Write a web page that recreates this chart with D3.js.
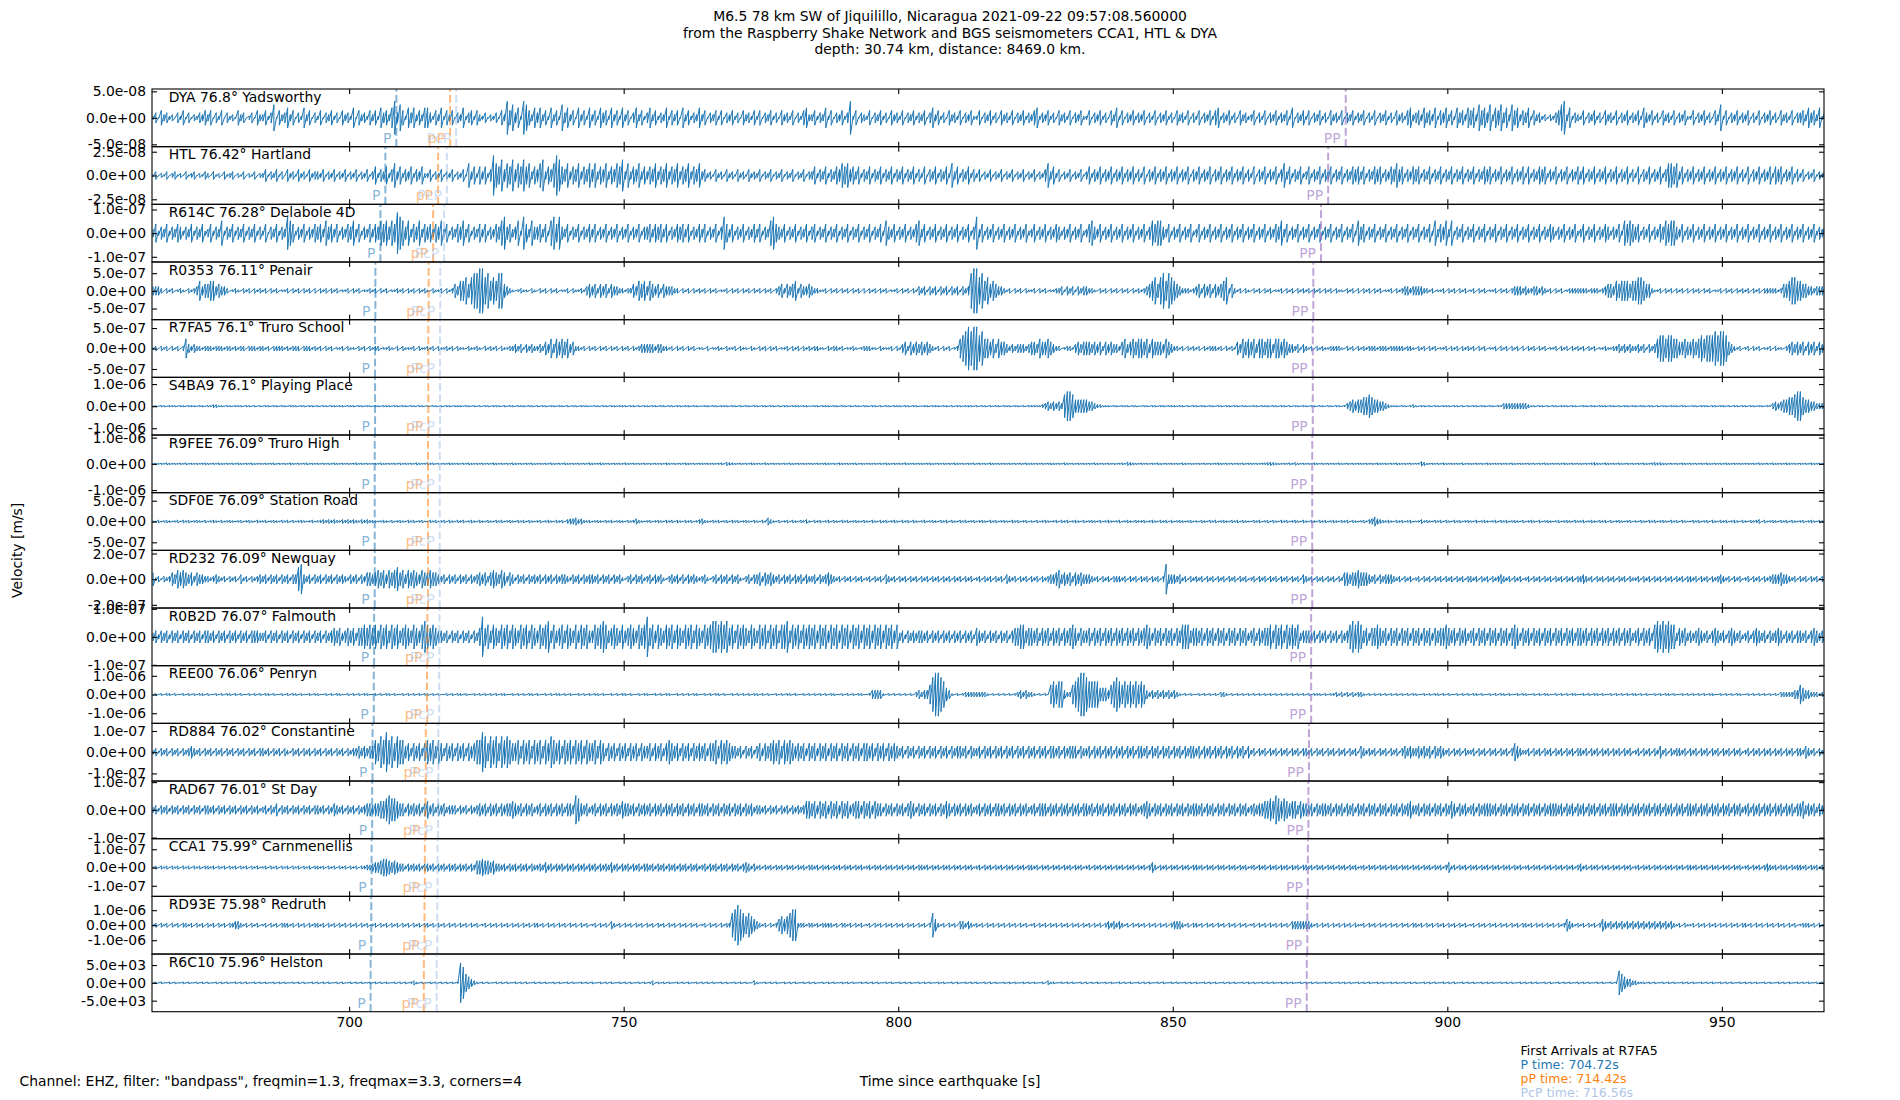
<!DOCTYPE html>
<html><head><meta charset="utf-8">
<script src="https://cdn.jsdelivr.net/npm/d3@7/dist/d3.min.js"></script>
<style>
body{margin:0;background:#fff}
svg text{font-family:"DejaVu Sans",sans-serif}
</style>
</head><body>
<svg id="chart" width="1900" height="1100"></svg>
<script>
// ---------------- DATA ----------------
const stations = ["DYA","HTL","R614C","R0353","R7FA5","S4BA9","R9FEE","SDF0E","RD232","R0B2D","REE00","RD884","RAD67","CCA1","RD93E","R6C10"];
const distances = [76.8,76.42,76.28,76.11,76.1,76.1,76.09,76.09,76.09,76.07,76.06,76.02,76.01,75.99,75.98,75.96];
const places = ["Yadsworthy","Hartland","Delabole 4D","Penair","Truro School","Playing Place","Truro High","Station Road","Newquay","Falmouth","Penryn","Constantine","St Day","Carnmenellis","Redruth","Helston"];
const yTickSteps = [5e-8,2.5e-8,1e-7,5e-7,5e-7,1e-6,1e-6,5e-7,2e-7,1e-7,1e-6,1e-7,1e-7,1e-7,1e-6,5e3];
const yLimits = [5.44e-8,3.03e-8,1.22e-7,8.15e-7,7.04e-7,1.305e-6,1.1e-6,6.93e-7,2.25e-7,1.03e-7,1.54e-6,1.36e-7,1.04e-7,1.58e-7,1.92e-6,8.1e3];
const tracePeaks = [3.14e-8,2.1e-8,8.74e-8,6.31e-7,5.29e-7,6.64e-7,8.9e-8,1.12e-7,1.17e-7,7.14e-8,1.157e-6,9.43e-8,5.17e-8,4.75e-8,1.33e-6,5618];
const pTimes   = [708.6,706.6,705.7,704.78,704.72,704.72,704.66,704.66,704.66,704.55,704.49,704.26,704.2,704.09,704.03,703.91];
const pPTimes  = [718.4,716.2,715.3,714.48,714.42,714.42,714.36,714.36,714.36,714.25,714.19,713.96,713.9,713.79,713.73,713.61];
const pcpTimes = [719.5,717.8,717.3,716.6,716.56,716.56,716.5,716.5,716.5,716.45,716.4,716.25,716.2,716.1,716.05,715.95];
const ppTimes  = [881.5,878.3,877.0,875.6,875.5,875.5,875.4,875.4,875.4,875.2,875.2,874.8,874.7,874.6,874.5,874.4];
const xTicks = [700,750,800,850,900,950];
const xDomain = [664.1,968.6];
const traceStart = 664.3, sampleStep = 0.5;
const titleLines = ["M6.5 78 km SW of Jiquilillo, Nicaragua 2021-09-22 09:57:08.560000","from the Raspberry Shake Network and BGS seismometers CCA1, HTL & DYA","depth: 30.74 km, distance: 8469.0 km."];
const arrivalLines = ["First Arrivals at R7FA5","P time: 704.72s","pP time: 714.42s","PcP time: 716.56s"];

// amplitude level (0-9) of the trace in successive 0.5 s windows, one string per 10 s
const traceDYA = ["35264534153625243546","46253615342645135264","46358264574625374625","36254635264537264536","46375647958637574647","75364736462547356364","35243526496857398647","57463746385746274637","46375637463746257463","57463547364627463547","46254636254635264536","36254635264536253674","46354736254635936254","36254635264536254635","46257463526453625463","36254635264536254635","46735463526453625463","36254635264736254635","46253625463526453625","36254636735463526453","46253625463546372546","36254635264536254635","46253625463526453674","56475647365746375647","67486758476857486746","57364534243568947354","36254635264536254635","46375463526453625463","36254635264836254635","46253625463526453625","56475647365746375647"];
const traceHTL = ["24132413423142341324","31423142341324132413","35243524153425342534","43524352435243524352","46354635746354635463","35243524352435274636","46359768576857686746","57846579865746574657","57465746576847465746","46574657465746574657","45342534253425342534","35243524352435243524","46354635465767564635","46354635463546354635","36254635463746354635","35243524352435243524","35243574635243524352","46354635463546354635","36254635463546354625","46354625463546354635","36254635463574635463","46354635463546354656","46354656354657563546","56354635463546354635","46354656354635463546","36354656354635463546","46354635463546354635","36254635463577674635","46354635463546354635","36254635463656354635","35243524352435243524"];
const traceR614C = ["46354635465354635463","46354735463546354635","36254635487635463546","56475646354657463546","46576757698757465746","56465746354657463546","46354657856457386475","56463786854635463546","46354635463546354635","56465646354656463546","46354635864635463546","46354786546354635463","56354635463546354635","46354637546354635467","46354635463546354635","84635463546354635463","46354635465354635463","46754635463546354635","46357677546354635463","46354635463546354635","46354635465746354635","46354635463546354637","56354635463546354635","46354637465747354635","46354635463546354635","46354635465354635463","46354635465354637676","56354635465767754635","46354635463546354635","46354635463546354635","46354635463546354635"];
const traceR0353 = ["44431323123213234645","56645443123213231323","23132312231323132313","13231323122313231223","23132312232313231323","21322313235466757889","97867688543212322132","13231323122313223245","45354535443323354656","46545354443313231323","23132312231323132313","23132313453545635445","43322313231323132313","13231323122313231324","34243424342434243489","97867565443231323132","23132312233424342434","43321323132313231323","23456757868765433323","45354535456735323132","13231323122313231323","23132313231322132313","13231323122313234434","44433231223132313231","23132312231323134443","43344343231323123333","33323332345546566656","67765532231323132313","13231323122313231323","23132313333323556776","65544344443424342434"];
const traceR7FA5 = ["23132313231364343323","33233323323233133323","32313333232333133323","23132312231322132313","23312232131322231322","32313223231322132232","13232313223343424343","34354646565645332313","23132313231323132344","44434433231323132312","21312232132231322132","13231323122313231323","23322132332312232123","33221322231324535454","54543231323123678989","97866564655434344434","55465565433123324545","55454535454435645656","65646555465433231323","23132333231323254656","56466566466565443424","32313232233332132313","23233323332333332332","13231323122313231323","23132312231323132313","13231323122313231323","23132312232233434343","34342434677677665565","56567677787887543231","23132312231322134545","45354535453545354535"];
const traceS4BA9 = ["22122122212212221221","22332212212221221212","12212212212221221221","21221221221222122122","12212221221221221221","21221212212221221212","12212221212212221221","21221221221212212221","12212212212221221212","21221221221221221221","12212212221221212212","21221221212212221221","12212221221221212212","21221212212221221221","12212221221212212221","21221212212221221212","22223454545489986666","65543322212212221221","12212212212221221212","21221221221221221221","12212221221221212212","21221221221221245656","67787665543222122123","21221212212221221212","12212212212244444444","43221221212212221221","12212212221221212212","21221221212212221221","12212221221221212212","21221221224545667789","97665544444343434343"];
const traceR9FEE = ["45454654545464545456","54546545454654546545","45456454546545456454","54545465454545645454","45465454546454546545","75645454654545465454","54546545454654545465","45454654546545454546","54565454545465454545","45454546545454654545","54545456487654545465","45465454545465454545","54545654546545456454","45454546545454654545","54565454545465454546","45454654545454545465","54545456545465454545","45465454545456587654","54545465454545465454","45454545654545454645","54545678765454657545","45465454545465454545","54545465454546545454","45985454546545454645","54545465454545465454","45454546545454654545","54546765465454654545","45465467676545454654","54545465454546545454","45454654546545465454","54546545454654545465"];
const traceSDF0E = ["43534543453545345435","34543534543453454354","45345435453534543453","45656565465656546565","54345435345435453453","35453453543545345435","43543545345435453543","45345435453677867545","34543545345435457543","45345435453543545346","75435453453545345435","43548643534535435464","35453453543545345435","43543545345435453543","45345435453543545345","34543545345435453453","43534543453545345435","34543534543453454354","45345435453534543453","43543545345435453543","35453453543545345435","43543545345435453543","45367976545435453453","34645435453543545345","43534543453545345435","34543534543453454354","45345435453534543453","43543545345435453543","35453453543545345435","43545635345435453543","45345435453543545345"];
const traceRD232 = ["63424346576765646554","43454342434253424345","45354535453558954535","45354535454354535466","56767576786757676576","67665453545354535456","56467657646535453545","45354535455435453545","54535453545324535453","45354532454535354543","45324535453545324535","56465654535453545354","45354565434243424342","34243425434243424342","43424342434243424342","34243424342543424342","43424345567565646565","55434243424443424342","43424342495554534243","43424342434243424342","34243424342434243425","43424342434243665667","66654535455543424342","34243424342434243424","43424342434543424342","34243424342434243424","45434243424342434243","34243424342434243424","43424342434543424342","34243424345556554342","43424342434243424342"];
const traceR0B2D = ["45354535453545354535","54535453545354535554","45354535453545354535","45354565645656466767","67576757675676576578","76765545354535453546","96757657675765767576","57678575675765757675","57678756765756765767","96757657675765767576","57678878786757676576","57675767577857675767","67576757675767576757","67576757675745354545","54535453545354535453","65453545354535667756","65646564656465676465","56465646564656465646","56764656465646577756","65646564656465646564","56465667576757676745","55453545354535457878","75646676564656465646","56465646566765646564","56465646564656467646","56465646564656465646","65646564656465646564","56465647878787746564","54565453565453565453","45356545354565354535","54535654535456535453"];
const traceREE00 = ["12121221211212121221","21121212212121121212","12212112121221211212","21121212211212121221","12121221211212121212","21212112121221211212","12121212211212121221","21121212212121121212","12212112121221211212","21121212211212121221","12121221211212121212","21212112121221211212","12121212211212121221","12444421212121212134","34468998754212123333","33332121212121234343","32121216767743367899","87777555467876767676","76434343434343212121","12121212133212121212","12121212121212121212","12122212122323232323","32121212121212121212","21121212212121121212","12212112121221211212","21121212211212121221","12121221211212121212","21212112121221211212","12121212211212121221","12121212121213333344","65443332323232323232"];
const traceRD884 = ["34243424342434543424","34243424342434243424","43424342432434243424","34243424342434454545","57687978687756465646","76757646564656465677","98687868787667576757","67576876757675767576","67576465646564656465","56465646765646564656","56466757676554535453","56465676757676565646","56465646564656465646","65646564656545354535","45354535453545545354","45354535453545354535","45354535545354555354","45354535453545354535","54535453545354535455","45354535453545354535","34243424342434243424","43424342434243424342","54343424342434245454","45454535454342434243","34243424342434246543","34243424342434243424","43424342434243424342","34243424353424344342","43424342434243424342","34243424342434243424","43543424342434243424"];
const traceRAD67 = ["45354535453545354535","54535453545354535453","45354635453545354535","54535465453545354566","56677898876646565646","75646564555354535456","56465646566765646564","56465646564665986564","56465646565766564656","56465646564656465646","65646564656465646564","55453545354535454577","67576757675767567757","67576646564656467646","56465646576465646564","56465646656465646564","56466646564656465646","65646564656465646564","56764656465646564656","65646564656465646564","56566778798787677576","65646566564656465646","56465646564656465675","56465646564657646564","56465666564656465646","56465646566656465646","56465646564666465646","56465646564656465646","65646564656465646564","56465646564656465646","67565646564656465646"];
const traceCCA1 = ["34243424342434243424","43424342434243424342","34243424342434243424","43424342434243424455","67789987876646565646","65646564656465646588","98878665646564656465","56575646564656465646","56465657564656465646","65646564656465646564","56465646564656467646","45354535453545354535","54535453545354535453","45354535453545354535","54535453545354535453","45354535453545354535","54535453545354535453","45354535453545354535","45357535453545354535","54535453545354535453","45354535453545354535","54535453545354535453","45354535453545354535","45354535453574535453","54535453545354535453","45354535453545354535","64535453545354535453","45354535453545354535","54535453545354535453","45354535654535453545","54535453545354535453"];
const traceRD93E = ["23132313231332313231","32313231334432313231","23132313332313231323","32313231323132313231","23132313231323132313","32313231323132313231","23132313231323132313","32313231323132313231","23132314323132313231","32313231323132313231","23132313233789876765","43231323565678833323","32323333231332313231","23132313231323132313","23137532313231443432","32313231323132313231","23132313231323132313","23132313434343231323","23132313231344432313","32313231323132313231","23132313231323144444","44323132313231323132","23132313231323132313","32313231323132313231","23132313231323132313","32313231323132354323","23132313543434343434","34343434343434323132","23132313231323132313","32313231323132313231","23332313231323132313"];
const traceR6C10 = ["12121121211212112121","21121212112121211212","12112121211212121121","21212112121121212112","12121211212121232121","12121212121298654321","21211212121121212112","12121121211212112121","21121212112121211212","12312121211212121121","21212112121121212113","21121212112121211212","12112121211212121121","21212112121121212112","12121121211212112121","21121212112121211212","12112132211212121121","21212112121121212112","12121121211212112121","21121212112121211212","12112121211212121121","21212112121121212112","12121121211212112121","21121212112121211212","12112121211212121121","21212112121121212112","12121121211212765443","32221212112121211212","12112121211212121121","21212112121121212112","12121121211212112121"];
const traces = [traceDYA,traceHTL,traceR614C,traceR0353,traceR7FA5,traceS4BA9,traceR9FEE,traceSDF0E,traceRD232,traceR0B2D,traceREE00,traceRD884,traceRAD67,traceCCA1,traceRD93E,traceR6C10];

// ---------------- LAYOUT ----------------
const W = 1900, H = 1100;
const axLeft = 152, axRight = 1824, axTop = 89, axBottom = 1011.7;
const n = stations.length;
const ph = (axBottom - axTop) / n;
const FONT = 13.9;

const svg = d3.select("#chart");
const defs = svg.append("defs");
const x = d3.scaleLinear().domain(xDomain).range([axLeft, axRight]);

function sci(v) {
  if (v === 0) return "0.0e+00";
  return v.toExponential(1).replace(/e([+-])(\d)$/, "e$10$2");
}
// each 0.5 s window is drawn as its max/min excursion (like a decimated seismogram plot)
function decode(chunks, peak) {
  const s = chunks.join("");
  const out = [];
  Array.from(s).forEach((c, i) => {
    const a = peak * Math.pow(+c / 9, 2);
    const t = traceStart + i * sampleStep;
    out.push({ t, v: a }, { t, v: -a });
  });
  return out;
}

const phases = [
  { name: "P", times: pTimes, color: "#1f77b4", op: 0.55 },
  { name: "pP", times: pPTimes, color: "#ff7f0e", op: 0.55 },
  { name: "PcP", times: pcpTimes, color: "#aec7e8", op: 0.6 },
  { name: "PP", times: ppTimes, color: "#9467bd", op: 0.6 }
];

stations.forEach((st, i) => {
  const y0 = axTop + i * ph, y1 = y0 + ph;
  const y = d3.scaleLinear().domain([-yLimits[i], yLimits[i]]).range([y1, y0]);
  const g = svg.append("g");
  const cid = "clip" + i;
  defs.append("clipPath").attr("id", cid).append("rect")
    .attr("x", axLeft).attr("y", y0).attr("width", axRight - axLeft).attr("height", ph);

  const data = decode(traces[i], tracePeaks[i]);
  g.append("path").datum(data)
    .attr("clip-path", `url(#${cid})`)
    .attr("fill", "none").attr("stroke", "#1f77b4").attr("stroke-width", 1.0)
    .attr("stroke-linejoin", "round")
    .attr("d", d3.line().x(d => x(d.t)).y(d => y(d.v)));

  phases.forEach(p => {
    const px = x(p.times[i]);
    g.append("line").attr("x1", px).attr("x2", px).attr("y1", y1).attr("y2", y0)
      .attr("stroke", p.color).attr("stroke-opacity", p.op)
      .attr("stroke-width", 2).attr("stroke-dasharray", "7.7,3.3");
  });
  phases.forEach(p => {
    const px = x(p.times[i]);
    g.append("text").attr("x", px - 5).attr("y", y1 - 4)
      .attr("text-anchor", "end").attr("font-size", 14)
      .attr("fill", p.color).attr("fill-opacity", p.op).text(p.name);
  });

  const tv = [-yTickSteps[i], 0, yTickSteps[i]];
  const la = g.append("g").attr("transform", `translate(${axLeft},0)`)
    .call(d3.axisLeft(y).tickValues(tv).tickFormat(sci).tickSizeInner(-5).tickSizeOuter(0).tickPadding(6));
  const ra = g.append("g").attr("transform", `translate(${axRight},0)`)
    .call(d3.axisRight(y).tickValues(tv).tickFormat("").tickSizeInner(-5).tickSizeOuter(0));
  const ta = g.append("g").attr("transform", `translate(0,${y0})`)
    .call(d3.axisTop(x).tickValues(xTicks).tickFormat("").tickSizeInner(-5).tickSizeOuter(0));
  const ba = g.append("g").attr("transform", `translate(0,${y1})`)
    .call(d3.axisBottom(x).tickValues(xTicks).tickFormat(i === n - 1 ? d3.format("d") : "").tickSizeInner(-5).tickSizeOuter(0).tickPadding(5));
  [la, ra, ta, ba].forEach(a => {
    a.select(".domain").remove();
    a.attr("font-size", FONT).attr("font-family", "DejaVu Sans, sans-serif");
    a.selectAll("line").attr("stroke", "#000").attr("stroke-width", 1.1);
    a.selectAll("text").attr("fill", "#000");
  });

  g.append("rect").attr("x", axLeft).attr("y", y0).attr("width", axRight - axLeft).attr("height", ph)
    .attr("fill", "none").attr("stroke", "#000").attr("stroke-width", 1.1);

  g.append("text").attr("x", axLeft + 0.01 * (axRight - axLeft)).attr("y", y0 + 12.5)
    .attr("font-size", FONT).attr("fill", "#000")
    .text(`${st} ${distances[i]}° ${places[i]}`);
});

// title
svg.append("g").selectAll("text").data(titleLines).join("text")
  .attr("x", W / 2).attr("y", (d, k) => 21 + k * 16.7)
  .attr("text-anchor", "middle").attr("font-size", FONT).attr("fill", "#000").text(d => d);

// y label
svg.append("text").attr("transform", `translate(22,${(axTop + axBottom) / 2}) rotate(-90)`)
  .attr("text-anchor", "middle").attr("font-size", FONT).attr("fill", "#000").text("Velocity [m/s]");

// x label & filter note
svg.append("text").attr("x", W / 2).attr("y", 1086).attr("text-anchor", "middle")
  .attr("font-size", FONT).attr("fill", "#000").text("Time since earthquake [s]");
svg.append("text").attr("x", 19.5).attr("y", 1086)
  .attr("font-size", FONT).attr("fill", "#000")
  .text('Channel: EHZ, filter: "bandpass", freqmin=1.3, freqmax=3.3, corners=4');

// arrivals block
const arrColors = ["#000", "#1f77b4", "#ff7f0e", "#aec7e8"];
svg.append("g").selectAll("text").data(arrivalLines).join("text")
  .attr("x", 1520.5).attr("y", (d, k) => 1055 + k * 13.9)
  .attr("font-size", 12.5).attr("fill", (d, k) => arrColors[k]).text(d => d);
</script>
</body></html>
